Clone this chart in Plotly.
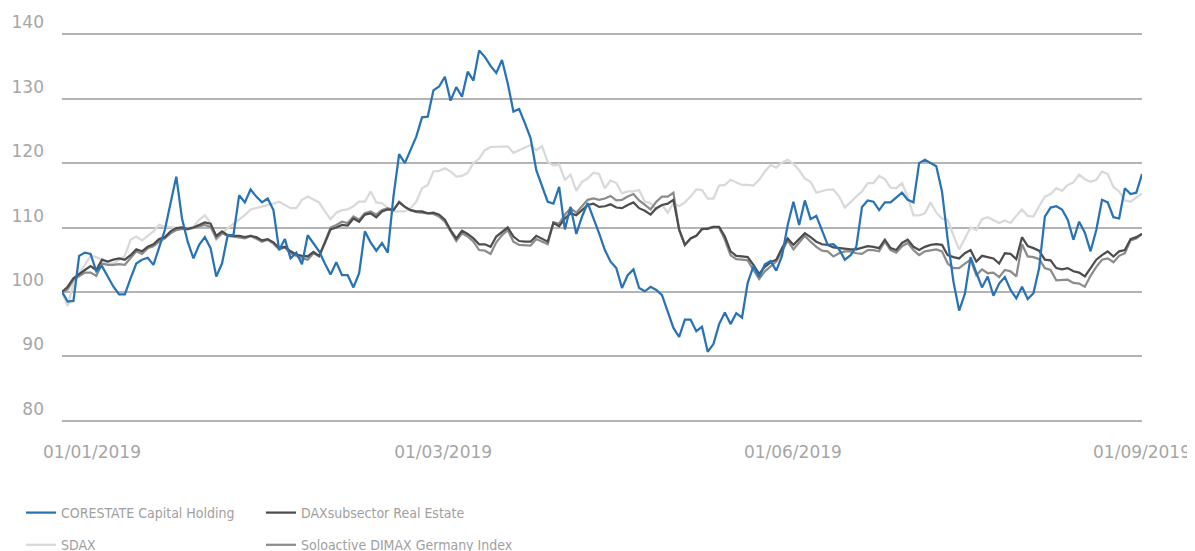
import plotly.graph_objects as go

corestate = [
    100.0, 98.5, 98.6, 105.6, 106.1, 105.9, 103.2, 104.0, 102.4, 100.8,
    99.6, 99.6, 102.1, 104.4, 105.0, 105.3, 104.2, 107.0, 109.6, 113.8,
    117.9, 111.4, 107.8, 105.2, 107.3, 108.5, 106.8, 102.4, 104.4, 108.8,
    108.8, 115.0, 113.9, 115.9, 114.8, 113.9, 114.5, 112.7, 106.5, 108.2,
    105.2, 106.1, 104.3, 108.8, 107.6, 106.3, 104.4, 102.7, 104.6, 102.6,
    102.6, 100.7, 102.9, 109.4, 107.7, 106.4, 107.6, 106.1, 114.8, 121.4,
    120.0, 122.0, 124.1, 127.1, 127.2, 131.3, 131.9, 133.4, 129.7, 131.8,
    130.3, 134.2, 132.8, 137.5, 136.5, 135.1, 134.0, 136.0, 132.4, 128.0,
    128.4, 126.2, 123.9, 118.9, 116.6, 114.0, 113.7, 116.3, 109.7, 113.2,
    109.0, 111.7, 113.8, 111.5, 109.1, 106.5, 104.7, 103.7, 100.6, 102.6,
    103.5, 100.6, 100.1, 100.8, 100.3, 99.5, 96.9, 94.4, 93.0, 95.7,
    95.7, 93.9, 94.6, 90.7, 91.9, 95.0, 96.8, 95.0, 96.7, 96.0,
    101.4, 104.0, 102.3, 104.3, 104.8, 103.3, 105.6, 110.4, 114.0, 110.4,
    114.2, 111.3, 111.8, 109.6, 107.3, 107.4, 106.6, 105.0, 105.7, 107.0,
    113.2, 114.2, 114.0, 112.7, 113.9, 113.9, 114.7, 115.4, 114.3, 113.9,
    120.0, 120.5, 120.0, 119.5, 115.6, 108.1, 101.6, 97.1, 99.7, 105.4,
    103.0, 100.7, 102.4, 99.4, 101.3, 102.3, 100.3, 99.0, 100.8, 98.9,
    99.8, 103.7, 111.7, 113.1, 113.3, 112.8, 111.2, 108.1, 110.9, 109.2,
    106.3, 109.6, 114.3, 113.9, 111.6, 111.4, 116.1, 115.2, 115.4, 118.3,
]

daxsubsector = [
    100.0, 100.8, 102.1, 102.8, 103.4, 104.0, 103.4, 105.0, 104.7, 105.0,
    105.2, 105.0, 105.7, 106.6, 106.3, 107.0, 107.4, 108.2, 108.5, 109.4,
    109.9, 110.0, 109.8, 110.0, 110.4, 110.8, 110.6, 108.7, 109.4, 108.8,
    108.7, 108.7, 108.5, 108.7, 108.5, 108.0, 108.2, 107.7, 106.8, 107.0,
    106.3, 105.8, 105.6, 105.5, 106.2, 105.6, 107.6, 109.7, 110.0, 110.4,
    110.3, 111.4, 110.9, 112.0, 112.2, 111.6, 112.5, 112.8, 112.7, 113.9,
    113.2, 112.7, 112.5, 112.5, 112.2, 112.3, 112.0, 111.2, 109.6, 108.3,
    109.5, 109.0, 108.3, 107.4, 107.4, 107.0, 108.6, 109.3, 110.0, 108.6,
    107.9, 107.8, 107.8, 108.7, 108.2, 107.8, 110.7, 110.2, 111.4, 112.2,
    111.9, 112.7, 113.5, 113.7, 113.2, 113.3, 113.6, 113.1, 113.0, 113.5,
    113.9, 113.0, 112.6, 112.0, 113.0, 113.5, 113.7, 114.3, 109.7, 107.3,
    108.3, 108.7, 109.8, 109.8, 110.1, 110.1, 108.6, 106.3, 105.6, 105.5,
    105.4, 104.2, 102.8, 103.9, 104.6, 105.0, 106.8, 108.3, 107.3, 108.2,
    109.1, 108.5, 107.8, 107.4, 107.3, 106.9, 106.8, 106.6, 106.6, 106.6,
    106.8, 107.1, 107.0, 106.8, 108.1, 106.8, 106.5, 107.6, 108.1, 107.0,
    106.5, 107.0, 107.3, 107.4, 107.3, 105.7, 105.4, 105.2, 106.0, 106.5,
    104.7, 105.6, 105.4, 105.2, 104.4, 106.0, 105.9, 105.1, 108.5, 107.1,
    106.8, 106.4, 105.0, 104.9, 103.7, 103.5, 103.7, 103.2, 103.0, 102.4,
    103.7, 105.0, 105.7, 106.3, 105.5, 106.3, 106.5, 108.2, 108.5, 109.0,
]

solactive = [
    100.0, 100.4, 101.9, 102.4, 103.0, 103.0, 102.5, 104.4, 104.2, 104.2,
    104.3, 104.2, 105.2, 106.3, 105.9, 106.8, 107.1, 107.8, 108.3, 109.1,
    109.6, 109.8, 109.7, 109.9, 110.1, 110.4, 110.1, 108.3, 109.1, 108.7,
    108.6, 108.5, 108.3, 108.7, 108.3, 107.8, 108.1, 107.5, 106.6, 106.9,
    106.0, 105.6, 105.2, 105.0, 106.0, 105.5, 107.8, 110.0, 110.4, 110.9,
    110.7, 111.7, 111.2, 112.2, 112.5, 112.0, 112.7, 113.0, 112.7, 114.0,
    113.2, 112.7, 112.4, 112.3, 112.1, 112.1, 111.7, 110.9, 109.4, 107.9,
    109.1, 108.6, 107.8, 106.5, 106.4, 105.9, 107.7, 108.8, 109.6, 107.8,
    107.3, 107.2, 107.2, 108.2, 107.8, 107.4, 110.8, 110.6, 112.0, 113.0,
    112.3, 113.3, 114.3, 114.5, 114.3, 114.5, 114.9, 114.2, 114.3, 114.8,
    115.2, 114.2, 113.5, 112.8, 114.0, 114.8, 114.8, 115.4, 109.6, 107.3,
    108.3, 108.7, 109.7, 109.9, 110.1, 110.0, 108.1, 105.7, 105.1, 105.0,
    104.9, 103.4, 102.0, 103.2, 103.9, 104.7, 106.3, 108.0, 106.6, 107.6,
    108.7, 107.8, 107.0, 106.4, 106.3, 105.5, 106.0, 106.3, 106.3, 106.0,
    105.9, 106.5, 106.5, 106.3, 107.8, 106.5, 106.1, 107.1, 107.6, 106.5,
    105.7, 106.3, 106.5, 106.6, 106.3, 104.4, 103.7, 103.7, 104.4, 105.0,
    102.6, 103.5, 102.9, 103.0, 102.3, 103.4, 103.2, 102.4, 107.4, 105.5,
    105.4, 105.1, 103.7, 103.4, 101.8, 101.9, 101.9, 101.4, 101.3, 100.8,
    102.5, 103.9, 105.0, 105.2, 104.6, 105.6, 106.0, 108.0, 108.3, 109.0,
]

sdax = [
    100.0, 97.8, 101.3, 102.9, 104.2, 105.6, 105.4, 105.0, 104.4, 104.4,
    105.0, 105.6, 108.1, 108.6, 108.0, 108.7, 109.4, 110.4, 110.1, 110.1,
    109.9, 109.9, 109.9, 110.1, 111.2, 111.9, 110.7, 108.1, 109.1, 109.9,
    110.6, 111.2, 111.9, 112.8, 113.0, 113.3, 113.4, 113.7, 114.0, 113.5,
    113.0, 113.0, 114.3, 114.8, 114.4, 113.9, 112.5, 111.3, 112.3, 112.7,
    112.8, 113.3, 114.0, 114.0, 115.6, 113.9, 113.8, 113.0, 112.5, 112.5,
    112.5, 113.0, 114.0, 116.1, 116.6, 118.7, 118.8, 119.2, 118.7, 117.9,
    118.0, 118.5, 120.0, 120.7, 122.0, 122.5, 122.5, 122.5, 122.6, 121.6,
    122.0, 122.3, 122.8, 122.0, 122.6, 120.2, 119.6, 119.8, 117.4, 118.2,
    115.7, 117.1, 117.6, 118.5, 118.3, 116.1, 117.3, 116.9, 115.3, 115.6,
    115.6, 115.8, 114.0, 113.8, 112.8, 113.5, 112.3, 113.8, 113.3, 113.9,
    114.8, 115.9, 115.8, 114.5, 114.5, 116.5, 116.6, 117.4, 117.0, 116.6,
    116.6, 116.5, 117.4, 118.7, 119.7, 119.3, 120.1, 120.5, 119.9, 118.9,
    117.6, 117.1, 115.4, 115.6, 115.9, 115.9, 114.8, 113.1, 114.0, 114.8,
    115.6, 116.9, 116.9, 118.0, 117.5, 116.2, 116.1, 116.9, 114.8, 111.9,
    111.9, 112.2, 113.9, 112.3, 111.4, 111.2, 108.8, 106.6, 108.3, 110.0,
    109.6, 111.3, 111.6, 111.2, 110.7, 111.1, 110.7, 111.8, 112.8, 111.8,
    111.7, 113.3, 114.8, 115.2, 116.1, 115.7, 116.6, 117.0, 118.2, 117.5,
    117.1, 117.4, 118.7, 118.3, 116.3, 115.6, 114.2, 114.0, 114.7, 115.3,
]

tick_labels = ["01/01/2019", "01/03/2019", "01/06/2019", "01/09/2019"]
tick_positions = [5.25, 66.7, 127.9, 189]
y_ticks = [80, 90, 100, 110, 120, 130, 140]

x = list(range(len(corestate)))

fig = go.Figure()
fig.add_trace(go.Scatter(x=x, y=sdax, mode="lines", name="SDAX",
                         line=dict(color="#d9d9d9", width=2.25),
                         legend="legend", legendgroup="g2", legendrank=2))
fig.add_trace(go.Scatter(x=x, y=solactive, mode="lines",
                         name="Soloactive DIMAX Germany Index",
                         line=dict(color="#8c8c8c", width=2.25),
                         legend="legend2", legendgroup="g4", legendrank=2))
fig.add_trace(go.Scatter(x=x, y=daxsubsector, mode="lines",
                         name="DAXsubsector Real Estate",
                         line=dict(color="#4d4d4d", width=2.25),
                         legend="legend2", legendgroup="g3", legendrank=1))
fig.add_trace(go.Scatter(x=x, y=corestate, mode="lines",
                         name="CORESTATE Capital Holding",
                         line=dict(color="#2872b6", width=2.25),
                         legend="legend", legendgroup="g1", legendrank=1))

legend_font = dict(family="DejaVu Sans Condensed, Liberation Sans Narrow, Liberation Sans",
                   size=14, color="#a0a0a0")

# The page body has an 8px default margin, so the figure is sized 8px smaller
fig_w, fig_h = 1187, 543
m_l, m_r, m_t, m_b = 54, 53, 25, 129
plot_w = fig_w - m_l - m_r
plot_h = fig_h - m_t - m_b
plot_bottom = fig_h - m_b
leg_top = 489

fig.update_layout(
    width=fig_w, height=fig_h,
    margin=dict(l=m_l, r=m_r, t=m_t, b=m_b, autoexpand=False),
    paper_bgcolor="white", plot_bgcolor="white",
    font=dict(family="DejaVu Sans, Verdana, sans-serif", size=16, color="#a6a6a6"),
    showlegend=True,
    legend=dict(x=(13 - m_l) / plot_w, y=-(leg_top - plot_bottom) / plot_h,
                xanchor="left", yanchor="top",
                orientation="v", font=legend_font, traceorder="grouped",
                tracegroupgap=11, bgcolor="rgba(0,0,0,0)"),
    legend2=dict(x=(253 - m_l) / plot_w, y=-(leg_top - plot_bottom) / plot_h,
                 xanchor="left", yanchor="top",
                 orientation="v", font=legend_font, traceorder="grouped",
                 tracegroupgap=11, bgcolor="rgba(0,0,0,0)"),
    xaxis=dict(range=[0, len(corestate) - 1], tickmode="array",
               tickvals=tick_positions, ticktext=tick_labels,
               showgrid=False, zeroline=False, showline=False, ticks="",
               ticklabelstandoff=18,
               tickfont=dict(size=17, color="#a6a6a6")),
    yaxis=dict(range=[79.8, 140.2], tickmode="array", tickvals=y_ticks,
               showgrid=True, gridcolor="#b4b4b4", gridwidth=1.5,
               zeroline=False, showline=False, ticks="",
               ticklabelposition="outside top", ticklabelstandoff=17,
               tickfont=dict(size=17, color="#a6a6a6")),
)

fig.write_html("out.html")
